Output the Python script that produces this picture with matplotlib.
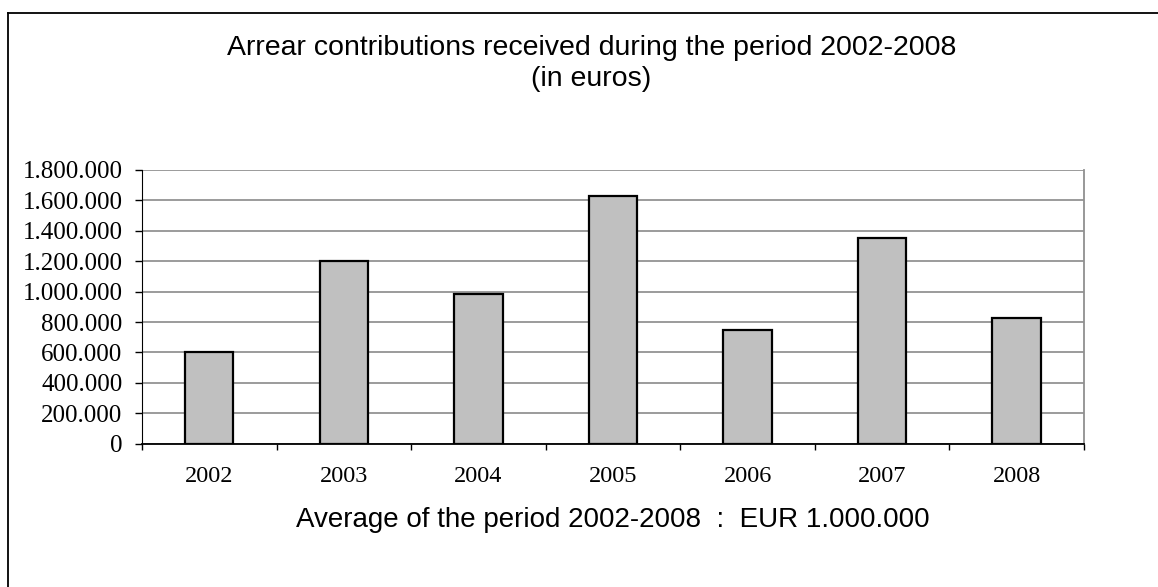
import matplotlib.pyplot as plt
from matplotlib.lines import Line2D
from matplotlib.ticker import FuncFormatter

# ---- data ----
years = ["2002", "2003", "2004", "2005", "2006", "2007", "2008"]
amounts = [600000, 1200000, 985000, 1630000, 748000, 1355000, 829000]
yticks = [0, 200000, 400000, 600000, 800000, 1000000, 1200000, 1400000, 1600000, 1800000]

title_line1 = "Arrear contributions received during the period 2002-2008"
title_line2 = "(in euros)"
note_text = "Average of the period 2002-2008  :  EUR 1.000.000"

serif = ["Liberation Serif", "DejaVu Serif"]
sans = ["Liberation Sans", "DejaVu Sans"]

fig = plt.figure(figsize=(11.58, 5.87), dpi=100)
ax = fig.add_axes([0.1226, 0.2441, 0.8135, 0.4663])

x = range(len(years))
ax.bar(x, amounts, width=0.36, color="#c0c0c0", edgecolor="black", linewidth=1.6, zorder=3)

ax.set_xlim(-0.5, len(years) - 0.5)
ax.set_ylim(0, 1800000)
ax.set_yticks(yticks)
ax.yaxis.set_major_formatter(FuncFormatter(lambda v, p: f"{int(v):,}".replace(",", ".")))
ax.set_xticks(list(x))
ax.set_xticklabels(years)
ax.set_xticks([i - 0.5 for i in range(len(years) + 1)], minor=True)

ax.tick_params(axis="x", which="major", length=0, pad=16, labelsize=17.5)
ax.tick_params(axis="x", which="minor", length=4.5, width=1, direction="out", color="black")
ax.tick_params(axis="y", length=5, width=1, direction="out", labelsize=18, pad=9)
for lab in ax.get_xticklabels() + ax.get_yticklabels():
    lab.set_fontfamily(serif)

ax.grid(axis="y", color="#808080", linewidth=1.1, zorder=0)
ax.spines["top"].set_visible(False)
ax.spines["right"].set_color("#909090")
ax.spines["right"].set_linewidth(1.3)
ax.spines["left"].set_color("black")
ax.spines["bottom"].set_color("black")
ax.spines["bottom"].set_linewidth(1.3)

# ---- texts ----
fig.text(0.5108, 1 - 55 / 587, title_line1, ha="center", va="baseline", fontsize=20.5, family=sans)
fig.text(0.5108, 1 - 86 / 587, title_line2, ha="center", va="baseline", fontsize=20.5, family=sans)
fig.text(0.529, 1 - 527 / 587, note_text, ha="center", va="baseline", fontsize=20, family=sans)

# outer frame (left and top only, as in the source)
fig.add_artist(Line2D([0.0069, 0.0069], [0.0, 0.9773], color="black", linewidth=1.3))
fig.add_artist(Line2D([0.0069, 1.0], [0.9773, 0.9773], color="black", linewidth=1.3))

fig.savefig("out.png", dpi=100)
